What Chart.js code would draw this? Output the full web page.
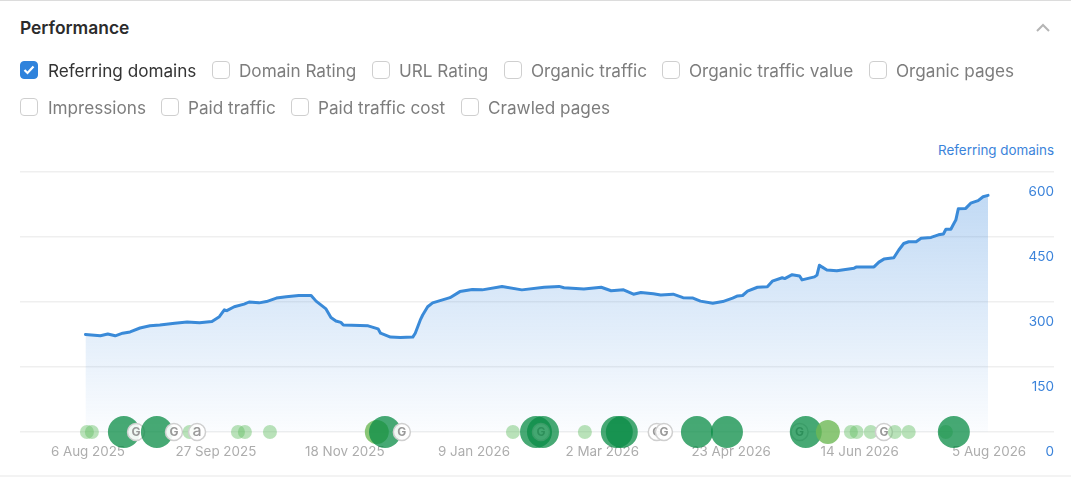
<!DOCTYPE html>
<html>
<head>
<meta charset="utf-8">
<script src="https://cdn.jsdelivr.net/npm/chart.js@4"></script>
<style>
html,body{margin:0;padding:0;background:#fff;width:1071px;height:477px;overflow:hidden;font-family:Inter,sans-serif}
#topline{position:absolute;left:0;top:0;width:1071px;height:1px;background:#dcdcdc}
#botline{position:absolute;left:0;top:475px;width:1071px;height:2px;background:#f3f3f3}
#title{position:absolute;left:20px;top:17.5px;font-size:17.4px;line-height:20px;font-weight:600;color:#2b2b2b}
#chev{position:absolute;left:1035px;top:22px}
.box{position:absolute;width:16px;height:16px;border:1px solid #cfcfcf;border-radius:4px;background:#fff}
.box.on{background:#2f83dc;border-color:#2f83dc}
.box svg{position:absolute;left:2px;top:3px}
.lab{position:absolute;font-size:17.15px;line-height:20px;color:#7d7d7d;white-space:nowrap}
.lab.on{color:#333}
#axisname{position:absolute;right:17px;top:142px;font-size:13.4px;line-height:16px;color:#3b83da}
canvas{position:absolute;left:0;top:0}
</style>
</head>
<body>
<div id="topline"></div><div id="botline"></div>
<div id="title">Performance</div>
<svg id="chev" width="16" height="12" viewBox="0 0 16 12"><path d="M2 9 L8 3 L14 9" fill="none" stroke="#b5b5b5" stroke-width="2"/></svg>
<div id="axisname">Referring domains</div>
<canvas id="c" width="1071" height="477"></canvas>
<script>
const metricNames = ["Referring domains","Domain Rating","URL Rating","Organic traffic","Organic traffic value","Organic pages","Impressions","Paid traffic","Paid traffic cost","Crawled pages"];
const metricChecked = [true,false,false,false,false,false,false,false,false,false];
const tickDays = [1,52.6,104.6,156.7,208.4,260.4,312.2,364.4];
const tickLabels = ["6 Aug 2025","27 Sep 2025","18 Nov 2025","9 Jan 2026","2 Mar 2026","23 Apr 2026","14 Jun 2026","5 Aug 2026"];
const yTicks = [0,150,300,450,600];
const seriesDays = [0,6,9,12,15,18,22,26,30,36,41,46,51,54,56,57,60,64,66,70,73,77,81,86,91,93,97,99,101,103,104,114,118,119,123,127,132,133,135,136,138,140,144,147,151,156,160,168,176,185,191,193,201,208,212,217,221,224,229,232,237,241,245,248,253,257,261,263,265,267,271,275,277,281,282,285,288,289,294,295,296,297,299,303,310,311,318,320,322,326,328,330,332,335,337,341,344,346,347,349,350,351,352,355,357,360,362,364];
const seriesValues = [225,222,226,222,228,231,240,245,247,251,254,252,255,266,282,280,289,295,300,298,301,309,312,315,315,302,284,264,256,253,247,245,238,228,219,218,219,228,258,270,289,298,305,310,324,329,328,336,328,334,336,333,330,334,326,328,318,322,319,316,318,310,309,302,297,301,309,314,315,325,334,335,348,356,354,363,360,351,358,362,385,381,374,372,378,381,381,392,399,402,420,435,439,439,447,449,455,457,468,468,479,489,515,516,528,534,543,546];
const eventDays = [0.6,2.6,15.5,20.4,28.8,35.7,42,45,61.5,64.3,74.4,117.5,120.8,127.6,172.4,181.7,183.7,184.5,201.4,214.3,216.3,230.4,233.3,246.6,258.7,288,290.5,299.4,308.7,311,316.7,322,326.4,332,347,350.2];
const eventKinds = ["light","light","big","google","big","google","light","amazon","light","light","light","medium","big","google","light","big","google","big","light","big","big","google","google","big","big","google","big","medium","light","light","light","google","light","light","light","big"];
</script>
<script>
const slots=[[20,48,71],[212,239,71],[372,399,71],[504,531,71],[662,689,71],[869,896,71],[20,48,108],[161,188,108],[291,318,108],[461,488,108]];
metricNames.forEach((n,i)=>{
  const [bx,tx,cy]=slots[i];
  const b=document.createElement('div');
  b.className='box'+(metricChecked[i]?' on':'');
  b.style.left=bx+'px';b.style.top=(cy-10)+'px';
  if(metricChecked[i]) b.innerHTML='<svg width="12" height="10" viewBox="0 0 12 10"><path d="M1.5 5 L4.5 8 L10.5 1.5" fill="none" stroke="#fff" stroke-width="2.2"/></svg>';
  document.body.appendChild(b);
  const l=document.createElement('div');
  l.className='lab'+(metricChecked[i]?' on':'');
  l.style.left=tx+'px';l.style.top=(cy-10)+'px';l.textContent=n;
  document.body.appendChild(l);
});
const kindStyle={
  light:{r:7,bg:'rgba(100,190,100,.45)',bd:'rgba(0,0,0,0)',bw:0},
  big:{r:16,bg:'rgba(10,140,70,.75)',bd:'rgba(0,0,0,0)',bw:0},
  medium:{r:12,bg:'rgba(110,185,85,.8)',bd:'rgba(0,0,0,0)',bw:0},
  google:{r:8.5,bg:'rgba(255,255,255,.92)',bd:'#cfcfcf',bw:1.5,letter:'G',color:'#999999',font:'700 12px Inter'},
  amazon:{r:8.5,bg:'rgba(255,255,255,.92)',bd:'#cfcfcf',bw:1.5,letter:'a',color:'#999999',font:'500 16px Inter'}
};
const orderedEvents={
  id:'orderedEvents',
  beforeDatasetDraw(chart,args){
    if(chart.data.datasets[args.index].type!=='bubble')return;
    const ctx=chart.ctx;
    args.meta.data.forEach((el,i)=>{
      el.draw(ctx);
      const k=kindStyle[eventKinds[i]];
      if(k.letter){
        ctx.save();ctx.font=k.font;ctx.fillStyle=k.color;ctx.textAlign='center';ctx.textBaseline='middle';
        ctx.fillText(k.letter,el.x,el.y+(k.letter==='a'?-1:0.5));ctx.restore();
      }
    });
    return false;
  }
};
new Chart(document.getElementById('c'),{
  data:{datasets:[
    {type:'line',order:2,data:seriesDays.map((d,i)=>({x:d,y:seriesValues[i]})),
     borderColor:'#3a8ad8',borderWidth:3,borderJoinStyle:'round',borderCapStyle:'round',pointRadius:0,tension:0,fill:'origin',
     backgroundColor(c){
       const a=c.chart.chartArea; if(!a) return 'rgba(53,133,220,.2)';
       const g=c.chart.ctx.createLinearGradient(0,a.top+20,0,a.bottom);
       g.addColorStop(0,'rgba(53,133,220,.31)');g.addColorStop(1,'rgba(53,133,220,.02)');
       return g;
     }},
    {type:'bubble',order:1,data:eventDays.map((d,i)=>({x:d,y:0,r:kindStyle[eventKinds[i]].r})),
     backgroundColor:c=>kindStyle[eventKinds[c.dataIndex]].bg,
     borderColor:c=>kindStyle[eventKinds[c.dataIndex]].bd,
     borderWidth:c=>kindStyle[eventKinds[c.dataIndex]].bw,
     hoverRadius:0,clip:false}
  ]},
  plugins:[orderedEvents],
  options:{
    responsive:false,animation:false,devicePixelRatio:1,
    events:[],
    layout:{padding:{left:20,right:17,top:172,bottom:0}},
    plugins:{legend:{display:false},tooltip:{enabled:false}},
    scales:{
      x:{type:'linear',min:-26.4,max:390.6,
         afterBuildTicks(s){s.ticks=tickDays.map(v=>({value:v}));},
         afterFit(s){s.height=45;},
         grid:{display:false,drawTicks:false},border:{display:false},
         ticks:{autoSkip:false,maxRotation:0,padding:12,color:'#adadad',font:{family:'Inter',size:13.4},
           callback:v=>tickLabels[tickDays.indexOf(v)]}},
      y:{type:'linear',position:'right',min:0,max:600,
         afterBuildTicks(s){s.ticks=yTicks.map(v=>({value:v}));},
         afterFit(s){s.width=0;},
         grid:{color:'#efefef',lineWidth:1.5,drawTicks:false},border:{display:false},
         ticks:{mirror:true,padding:0,labelOffset:20,color:'#3b83da',font:{family:'Inter',size:13.5}}}
    }
  }
});
</script>
</body>
</html>
